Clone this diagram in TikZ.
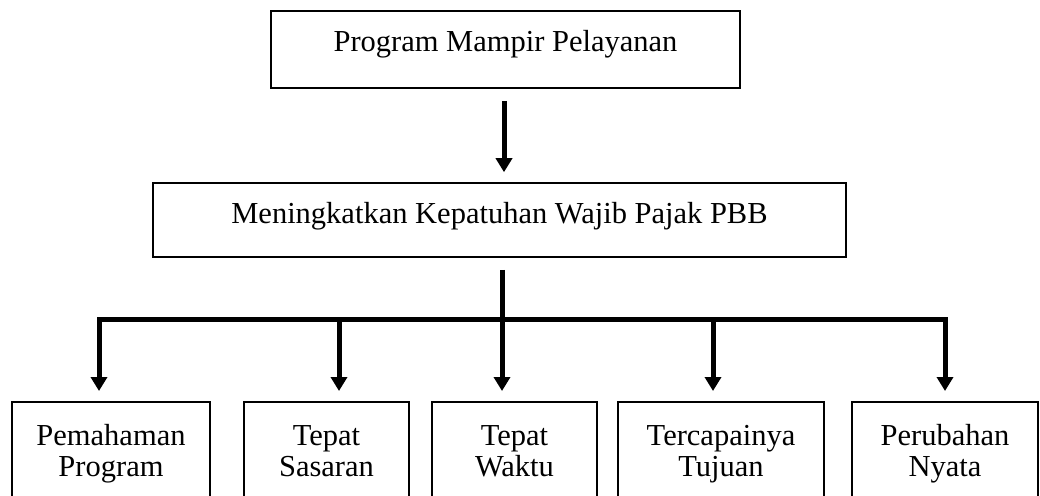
\documentclass[tikz,border=0pt]{standalone}
\usepackage{fontspec}
\setmainfont{Liberation Serif}
\usetikzlibrary{arrows.meta}
\newcommand{\lnstrut}{\vphantom{Pg}}
\tikzset{
  box/.style={draw=black, line width=1.6pt, rectangle, inner sep=0pt, align=center,
    font=\fontsize{30.5}{31}\selectfont},
  conn/.style={line width=5pt, -{Triangle[width=16pt,length=14pt]}},
  barline/.style={line width=5pt},
}
\begin{document}
\begin{tikzpicture}[x=1pt,y=-1pt]
\useasboundingbox (0,0) rectangle (1040,495);
\clip (0,0) rectangle (1040,495);
\fill[white] (0,0) rectangle (1040,495);
% top boxes
\node[box, minimum width=469pt, minimum height=77pt, text height=25pt, text depth=20pt] (top) at (505.5,49.5) {Program Mampir Pelayanan};
\node[box, minimum width=693pt, minimum height=74pt, text height=26pt, text depth=20pt] (mid) at (499.5,220) {Meningkatkan Kepatuhan Wajib Pajak PBB};
% bottom boxes (cut off at the lower edge)
\node[box, anchor=north, minimum width=198pt, minimum height=104pt] (p1) at (111,401) {Pemahaman\lnstrut\\Program\lnstrut};
\node[box, anchor=north, minimum width=165pt, minimum height=104pt] (p2) at (326.5,401) {Tepat\lnstrut\\Sasaran\lnstrut};
\node[box, anchor=north, minimum width=165pt, minimum height=104pt] (p3) at (514.5,401) {Tepat\lnstrut\\Waktu\lnstrut};
\node[box, anchor=north, minimum width=206pt, minimum height=104pt] (p4) at (721,401) {Tercapainya\lnstrut\\Tujuan\lnstrut};
\node[box, anchor=north, minimum width=186pt, minimum height=104pt] (p5) at (945,401) {Perubahan\lnstrut\\Nyata\lnstrut};
% connectors
\coordinate (j) at (502,319);
\draw[conn, shorten <=12pt, shorten >=10pt] ([xshift=-1.5pt]top.south) -- ([xshift=-1.5pt]top.south |- mid.north);
\draw[conn, shorten <=12pt, shorten >=10pt] ([xshift=2.5pt]mid.south) -- ([xshift=-12.5pt]p3.north);
\draw[barline] ([xshift=-12pt]p1.north |- j) -- (p5.north |- j);
\draw[conn, shorten >=10pt] (j) -| ([xshift=-12pt]p1.north);
\draw[conn, shorten >=10pt] (j) -| (p5.north);
\draw[conn, shorten >=10pt] ([xshift=12.5pt]p2.north |- j) -- ([xshift=12.5pt]p2.north);
\draw[conn, shorten >=10pt] ([xshift=-8pt]p4.north |- j) -- ([xshift=-8pt]p4.north);
\end{tikzpicture}
\end{document}
